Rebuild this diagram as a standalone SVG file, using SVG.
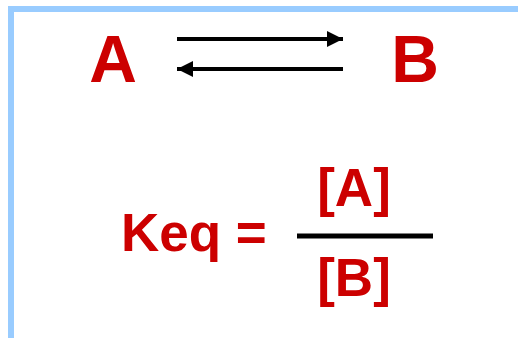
<svg xmlns="http://www.w3.org/2000/svg" width="518" height="338" viewBox="0 0 518 338">
<defs>
<style>
.t{font-family:"Liberation Sans",Arial,sans-serif;font-weight:bold;fill:#CC0000;}
.big{font-size:66px;}
.mid{font-size:53px;}
.ln{stroke:#000;stroke-width:4;fill:none;}
</style>
<marker id="ah" viewBox="0 0 16 16" refX="16" refY="8" markerWidth="16" markerHeight="16" markerUnits="userSpaceOnUse" orient="auto">
<path d="M0,0 L16,8 L0,16 Z" fill="#000"/>
</marker>
</defs>
<rect width="518" height="338" fill="#fff"/>
<g id="frame">
<rect x="8" y="6" width="510" height="6" fill="#99CCFF"/>
<rect x="8" y="6" width="6" height="332" fill="#99CCFF"/>
</g>
<g id="nodeA"><text class="t big" x="113" y="82" text-anchor="middle">A</text></g>
<g id="nodeB"><text class="t big" x="415" y="82" text-anchor="middle">B</text></g>
<g id="connectors">
<line class="ln" x1="177" y1="39" x2="343" y2="39" marker-end="url(#ah)"/>
<line class="ln" x1="343" y1="69" x2="177" y2="69" marker-end="url(#ah)"/>
</g>
<g id="equation">
<text class="t mid" x="121" y="251">Keq =</text>
<text class="t mid" x="354" y="206" text-anchor="middle">[A]</text>
<line x1="297" y1="236" x2="433" y2="236" stroke="#000" stroke-width="5"/>
<text class="t mid" x="354" y="296" text-anchor="middle">[B]</text>
</g>
</svg>
